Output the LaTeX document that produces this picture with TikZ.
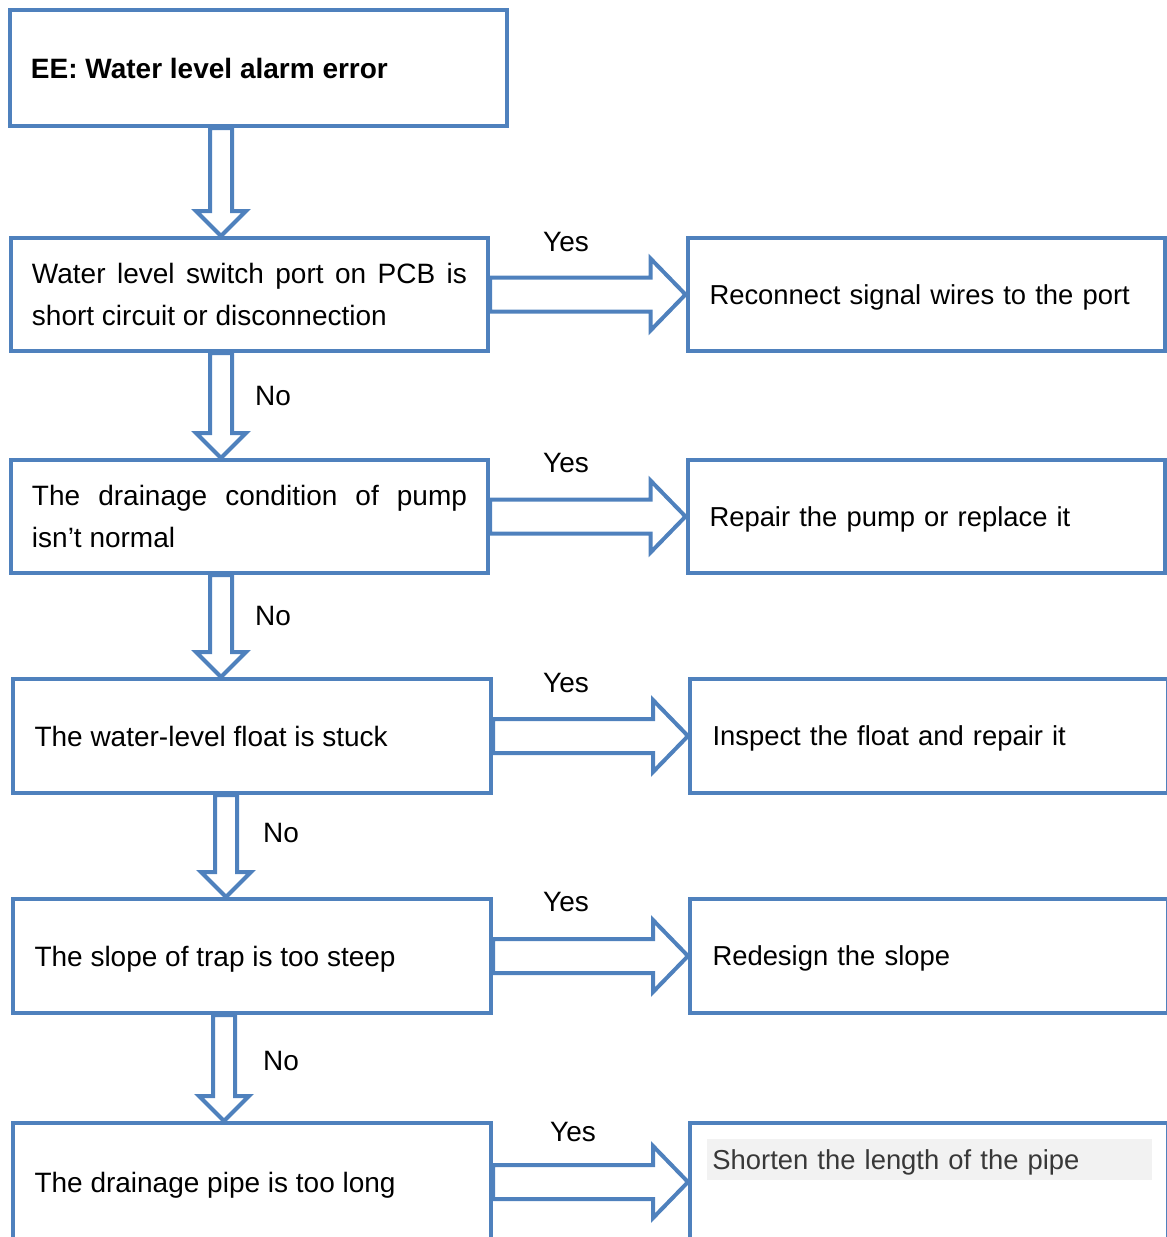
\documentclass[tikz,border=0pt]{standalone}
\usepackage{fontspec}
\setmainfont{Liberation Sans}
\usepackage{xcolor}
\usetikzlibrary{
    calc,
    positioning
}
\definecolor{flowblue}{HTML}{4F81BD}
\definecolor{notegray}{HTML}{F2F2F2}

\begin{document}
\begin{tikzpicture}[
    x=0.5pt, y=-0.5pt,
    font=\fontsize{14pt}{21pt}\selectfont,
    checkbox/.style={
        rectangle,
        draw=flowblue,
        line width=2pt,
        align=justify,
        text width=217.5pt,
        inner xsep=10.5pt,
        minimum width=238.5pt,
        minimum height=56.5pt,
        fill=white
    },
    fixbox/.style={
        rectangle,
        draw=flowblue,
        line width=2pt,
        align=left,
        font=\fontsize{13.7pt}{21pt}\selectfont,
        text width=216.5pt,
        text depth=0pt,
        inner xsep=11pt,
        minimum width=238.5pt,
        minimum height=56.5pt,
        fill=white
    },
    yesarrow/.style={
        draw=flowblue,
        line width=2pt,
        line join=miter,
        to path={
            let \p1=(\tikztostart), \p2=(\tikztotarget) in
            (\x1,\y1+8.5pt) -- (\x2-17.5pt,\y1+8.5pt) -- (\x2-17.5pt,\y1+18pt)
            -- (\x2,\y1) -- (\x2-17.5pt,\y1-18pt) -- (\x2-17.5pt,\y1-8.5pt)
            -- (\x1,\y1-8.5pt) -- cycle
        }
    },
    noarrow/.style={
        draw=flowblue,
        line width=2pt,
        line join=miter,
        to path={
            let \p1=(\tikztostart), \p2=(\tikztotarget) in
            (\x1+5.5pt,\y1) -- (\x1+5.5pt,\y2+12.5pt) -- (\x1+12.5pt,\y2+12.5pt)
            -- (\x1,\y2) -- (\x1-12.5pt,\y2+12.5pt) -- (\x1-5.5pt,\y2+12.5pt)
            -- (\x1-5.5pt,\y1) -- cycle
        }
    },
    answer/.style={
        inner sep=0pt,
        text=black
    }
]

\useasboundingbox (0,0) rectangle (1167,1237);
\clip (0,0) rectangle (1167,1237);

% =========================================================
% Fault and checks
% =========================================================
\node[checkbox, minimum width=248.5pt, minimum height=58pt, text width=227.5pt] (fault) at (258.5,68)
{\textbf{EE: Water level alarm error}};

\node[checkbox] (check1) at (249.5,294.5)
{Water level switch port on PCB is short circuit or disconnection};

\node[checkbox] (check2) at (249.5,516.5)
{The drainage condition of pump isn't normal};

\node[checkbox, minimum width=239pt, minimum height=57pt, text depth=0pt] (check3) at (252,736)
{The water-level float is stuck};

\node[checkbox, minimum width=239pt, minimum height=57pt, text depth=0pt] (check4) at (252,956)
{The slope of trap is too steep};

\node[checkbox, minimum width=239pt, minimum height=59pt, text depth=0pt] (check5) at (252,1182)
{The drainage pipe is too long};

% =========================================================
% Fixes
% =========================================================
\node[fixbox] (fix1) at (926,294.5)
{Reconnect signal wires to the port};

\node[fixbox] (fix2) at (926,516.5)
{Repair the pump or replace it};

\node[fixbox, minimum width=239pt, minimum height=57pt] (fix3) at (929,736)
{Inspect the float and repair it};

\node[fixbox, minimum width=239pt, minimum height=57pt] (fix4) at (929,956)
{Redesign the slope};

\node[fixbox, minimum width=239pt, minimum height=59pt] (fix5) at (929,1182) {};

\node[anchor=north west, fill=notegray, text=black!78, align=left,
      font=\fontsize{13.7pt}{21pt}\selectfont,
      text width=217.5pt, text depth=0pt, inner xsep=2.5pt, inner ysep=0pt,
      minimum height=20.5pt] (fix5text) at (707,1139)
{Shorten the length of the pipe};

% =========================================================
% Columns of the down arrows
% =========================================================
\coordinate (col1) at (221,0);
\coordinate (col2) at (221,0);
\coordinate (col3) at (221,0);
\coordinate (col4) at (226,0);
\coordinate (col5) at (224,0);

% =========================================================
% Down arrows
% =========================================================
\draw[noarrow] (fault.south -| col1) to (check1.north -| col1);
\draw[noarrow] (check1.south -| col2) to (check2.north -| col2);
\draw[noarrow] (check2.south -| col3) to (check3.north -| col3);
\draw[noarrow] (check3.south -| col4) to (check4.north -| col4);
\draw[noarrow] (check4.south -| col5) to (check5.north -| col5);

% =========================================================
% Yes arrows
% =========================================================
\draw[yesarrow] (check1.east) to (fix1.west);
\draw[yesarrow] (check2.east) to (fix2.west);
\draw[yesarrow] (check3.east) to (fix3.west);
\draw[yesarrow] (check4.east) to (fix4.west);
\draw[yesarrow] (check5.east) to (fix5.west);

% =========================================================
% Answers
% =========================================================
\node[answer] (yes1) at (566,242) {Yes};
\node[answer] (yes2) at (566,463) {Yes};
\node[answer] (yes3) at (566,683) {Yes};
\node[answer] (yes4) at (566,902) {Yes};
\node[answer] (yes5) at (573,1132) {Yes};

\node[answer] (no1) at (273,396) {No};
\node[answer] (no2) at (273,616) {No};
\node[answer] (no3) at (281,833) {No};
\node[answer] (no4) at (281,1061) {No};

\end{tikzpicture}
\end{document}
